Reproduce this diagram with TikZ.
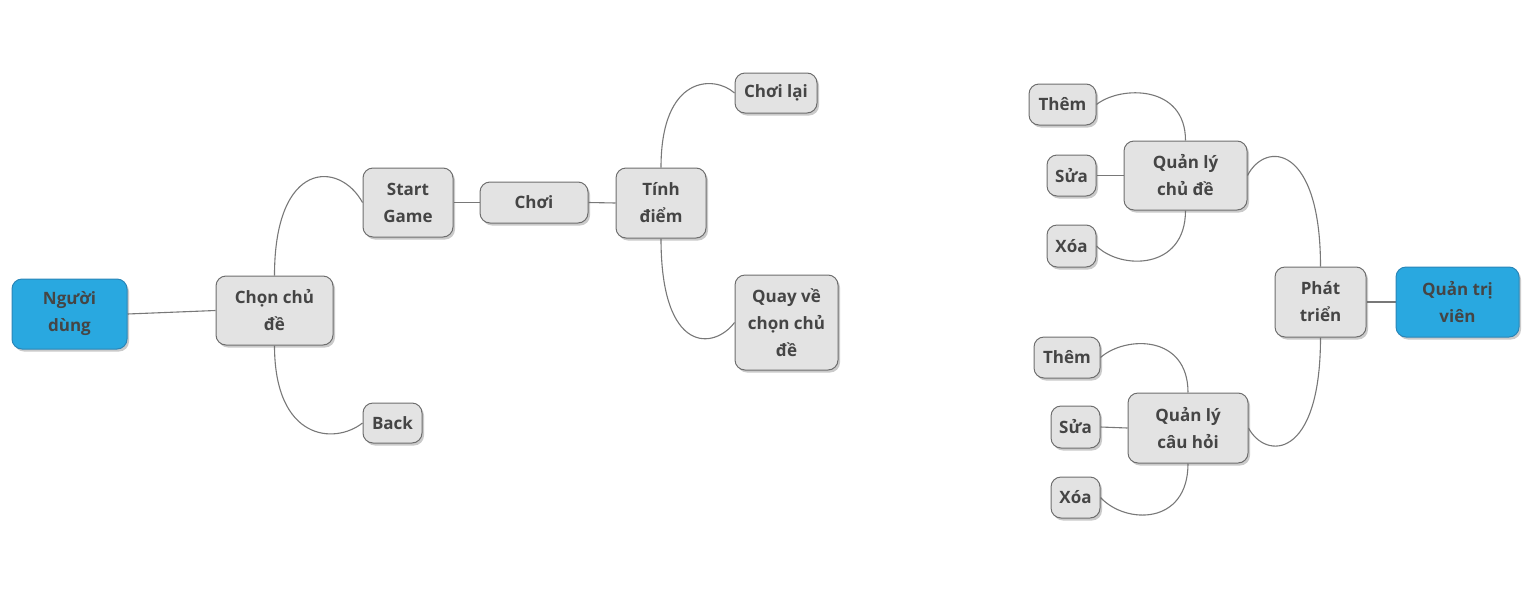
\documentclass[tikz,border=0pt]{standalone}
\usepackage{fontspec}
\setmainfont{Open Sans}
\usetikzlibrary{shadows,backgrounds}
\definecolor{boxfill}{HTML}{E3E3E3}
\definecolor{boxline}{HTML}{6E6E6E}
\definecolor{rootfill}{HTML}{29A8E0}
\definecolor{rootline}{HTML}{2A86B8}
\definecolor{txt}{HTML}{454545}
\definecolor{conncol}{HTML}{787878}
\tikzset{
  box/.style={draw=boxline, fill=boxfill, line width=1pt, rounded corners=10pt,
    inner sep=0pt, align=center, text=txt,
    font=\fontsize{17}{27}\selectfont\bfseries,
    drop shadow={shadow xshift=2pt, shadow yshift=-2.5pt, opacity=0.35, fill=black!60}},
  rootbox/.style={box, draw=rootline, fill=rootfill},
  conn/.style={draw=conncol, line width=1.1pt}
}
\begin{document}
\begin{tikzpicture}[x=1pt,y=-1pt]
\useasboundingbox (0,0) rectangle (1537,595);
% left tree
\node[rootbox, minimum width=115pt, minimum height=70pt] (nguoi) at (69.5,314) {Người\\dùng};
\node[box, minimum width=117pt, minimum height=69pt] (chon) at (274.5,310.5) {Chọn chủ\\đề};
\node[box, minimum width=90pt, minimum height=69pt] (start) at (408,202.5) {Start\\Game};
\node[box, minimum width=59pt, minimum height=40pt] (back) at (392.5,423) {Back};
\node[box, minimum width=108pt, minimum height=41pt] (choi) at (534,202.5) {Chơi};
\node[box, minimum width=90pt, minimum height=70pt] (tinh) at (661,203) {Tính\\điểm};
\node[box, minimum width=82pt, minimum height=40pt] (choilai) at (776,93) {Chơi lại};
\node[box, minimum width=103pt, minimum height=95pt] (quay) at (786.5,322.5) {Quay về\\chọn chủ\\đề};
% right tree
\node[rootbox, minimum width=123pt, minimum height=70pt] (qtv) at (1457.5,302) {Quản trị\\viên};
\node[box, minimum width=91pt, minimum height=70pt] (phat) at (1320.5,302) {Phát\\triển};
\node[box, minimum width=123pt, minimum height=69pt] (qlcd) at (1185.5,175.5) {Quản lý\\chủ đề};
\node[box, minimum width=67pt, minimum height=41pt] (them1) at (1062.5,104.5) {Thêm};
\node[box, minimum width=49pt, minimum height=41pt] (sua1) at (1071.5,175.5) {Sửa};
\node[box, minimum width=49pt, minimum height=42pt] (xoa1) at (1071.5,246) {Xóa};
\node[box, minimum width=120pt, minimum height=70pt] (qlch) at (1188,428) {Quản lý\\câu hỏi};
\node[box, minimum width=66pt, minimum height=41pt] (them2) at (1067,357.5) {Thêm};
\node[box, minimum width=49pt, minimum height=42pt] (sua2) at (1075.5,427) {Sửa};
\node[box, minimum width=49pt, minimum height=41pt] (xoa2) at (1075.5,497.5) {Xóa};
\begin{scope}[on background layer]
\draw[conn] (nguoi.east) -- (chon.west);
\draw[conn] (chon.north) .. controls +(0,-116) and +(-23,-42) .. (start.west);
\draw[conn] (chon.south) .. controls +(0,95) and +(-28,22) .. (back.west);
\draw[conn] (start.east) -- (choi.west);
\draw[conn] (choi.east) -- (tinh.west);
\draw[conn] (tinh.north) .. controls +(0,-93) and +(-20,-18) .. (choilai.west);
\draw[conn] (tinh.south) .. controls +(0,117) and +(-20,27) .. (quay.west);
\draw[conn] (qtv.west) -- (phat.east);
\draw[conn] (phat.north) .. controls +(0,-122) and +(18,-35) .. (qlcd.east);
\draw[conn] (phat.south) .. controls +(0,123) and +(17,32) .. (qlch.east);
\draw[conn] (qlcd.north) .. controls +(0,-56) and +(24,-19) .. (them1.east);
\draw[conn] (qlcd.west) -- (sua1.east);
\draw[conn] (qlcd.south) .. controls +(0,60) and +(24,24) .. (xoa1.east);
\draw[conn] (qlch.north) .. controls +(0,-58) and +(25,-22) .. (them2.east);
\draw[conn] (qlch.west) -- (sua2.east);
\draw[conn] (qlch.south) .. controls +(0,62) and +(25,27) .. (xoa2.east);
\end{scope}
\end{tikzpicture}
\end{document}
